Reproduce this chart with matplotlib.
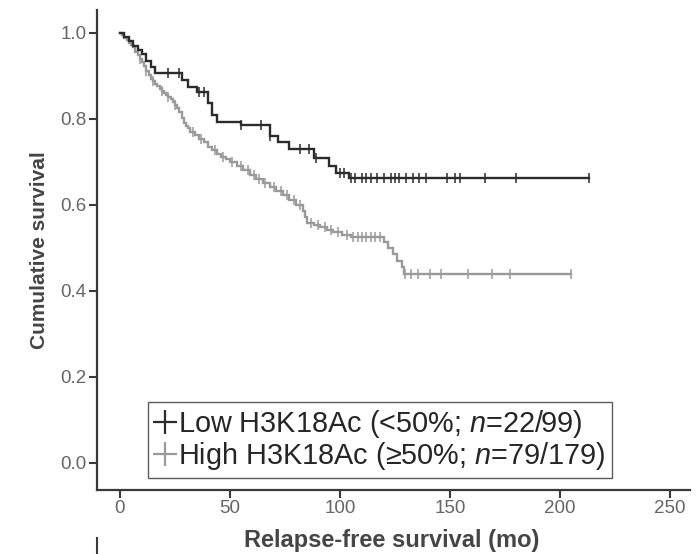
import numpy as np
import matplotlib
matplotlib.use("Agg")
import matplotlib.pyplot as plt
from matplotlib.lines import Line2D

plt.rcParams['font.family'] = ['Liberation Sans', 'DejaVu Sans']
plt.rcParams['mathtext.fontset'] = 'custom'
plt.rcParams['mathtext.rm'] = 'Liberation Sans'
plt.rcParams['mathtext.it'] = 'Liberation Sans:italic'

# ---- data ----
low_times = [0, 2, 4, 6, 8, 10, 12, 14, 16, 28, 31, 35, 40, 42, 44, 55, 68, 72, 77, 88, 95, 98, 104]
low_surv = [1.0, 0.99, 0.98, 0.97, 0.96, 0.95, 0.935, 0.92, 0.907, 0.89, 0.875, 0.863, 0.837,
            0.81, 0.793, 0.785, 0.76, 0.745, 0.73, 0.71, 0.69, 0.675, 0.663]
low_end = 213
low_censor = [22, 27, 36, 38, 55, 64, 68, 82, 86, 89, 100, 102, 105, 107, 110, 112, 114, 117,
              120, 123, 125, 127, 130, 133, 136, 139, 148.6, 152, 154.5, 166, 180, 213]

high_times = [0, 1, 2, 3, 4, 5, 6, 7, 8, 9, 10, 11, 12, 13, 14, 15, 16, 17, 18, 19, 20, 21, 22,
              23, 24, 25, 26, 27, 28, 29, 30, 31, 32, 34, 36, 38, 40, 42, 44, 46, 48, 50, 53, 56,
              59, 62, 65, 68, 71, 74, 77, 80, 83, 84, 85, 88, 91, 94, 97, 101, 105, 120, 122,
              124, 126, 128, 129]
high_surv = [1.0, 0.994, 0.989, 0.983, 0.977, 0.972, 0.966, 0.956, 0.948, 0.94, 0.932, 0.922,
             0.912, 0.902, 0.893, 0.887, 0.881, 0.876, 0.870, 0.865, 0.860, 0.855, 0.850, 0.845,
             0.838, 0.832, 0.825, 0.815, 0.803, 0.790, 0.784, 0.778, 0.770, 0.763, 0.752, 0.745,
             0.735, 0.727, 0.719, 0.712, 0.706, 0.700, 0.690, 0.680, 0.670, 0.660, 0.651, 0.642,
             0.632, 0.622, 0.612, 0.600, 0.585, 0.572, 0.558, 0.553, 0.548, 0.542, 0.536, 0.531,
             0.526, 0.514, 0.500, 0.485, 0.470, 0.455, 0.440]
high_end = 205
high_censor = [9, 12, 15, 19, 22, 25, 33, 37, 43, 47, 51, 55, 58, 61, 63, 66, 70, 73, 76, 79, 82,
               87, 90, 93, 96, 99, 103, 106, 108, 110, 112, 114, 116, 118, 129.5, 132, 135.5,
               141, 146, 158, 169, 177, 205]

x_ticks = [0, 50, 100, 150, 200, 250]
y_ticks = [0.0, 0.2, 0.4, 0.6, 0.8, 1.0]
y_ticklabels = ["0.0", "0.2", "0.4", "0.6", "0.8", "1.0"]

low_label = r"Low H3K18Ac (<50%; $n$=22/99)"
high_label = r"High H3K18Ac (≥50%; $n$=79/179)"

low_color = "#2b2b2b"
high_color = "#9a9a9a"

# ---- figure ----
fig = plt.figure(figsize=(7.0, 5.54), dpi=100)
ax = fig.add_axes([97/700, (554-490)/554, (690-97)/700, (490-10)/554])


def km(ax, times, surv, end, censor, color):
    xs = list(times) + [end]
    ys = list(surv) + [surv[-1]]
    ax.step(xs, ys, where='post', color=color, lw=1.7, solid_joinstyle='miter')
    t = np.asarray(times)
    s = np.asarray(surv)
    idx = np.searchsorted(t, np.asarray(censor), side='right') - 1
    ax.plot(censor, s[idx], ls='none', marker='|', ms=7, mew=1.1, color=color)


km(ax, high_times, high_surv, high_end, high_censor, high_color)
km(ax, low_times, low_surv, low_end, low_censor, low_color)

ax.set_xlim(-10.45, 259)
ax.set_ylim(-0.063, 1.053)
ax.set_xticks(x_ticks)
ax.set_xticklabels([str(v) for v in x_ticks])
ax.set_yticks(y_ticks)
ax.set_yticklabels(y_ticklabels)

for sp in ['top', 'right']:
    ax.spines[sp].set_visible(False)
for sp in ['left', 'bottom']:
    ax.spines[sp].set_color('#3a3a3a')
    ax.spines[sp].set_linewidth(1.6)
ax.tick_params(direction='out', length=6, width=1.5, color='#3a3a3a',
               labelcolor='#666666', labelsize=13.5, pad=1.5)

fig.text(40/700, 1 - 250/554, "Cumulative survival", ha='center', va='center',
         rotation=90, fontsize=15, fontweight='bold', color='#454545')
fig.text(392/700, 1 - 541/554, "Relapse-free survival (mo)", ha='center', va='center',
         fontsize=17, fontweight='bold', color='#454545')

handles = [Line2D([], [], ls='none', marker='+', ms=17, mew=1.6, color=low_color),
           Line2D([], [], ls='none', marker='+', ms=17, mew=1.6, color=high_color)]
leg = ax.legend(handles, [low_label, high_label], loc='lower left',
                bbox_to_anchor=((148-97)/593, (490-478)/480), borderaxespad=0,
                fontsize=20.8, frameon=True, fancybox=False, handlelength=0.8,
                handletextpad=0.05, borderpad=0.2, labelspacing=0.0)
leg.get_frame().set_edgecolor('#333333')
leg.get_frame().set_linewidth(1.0)
for t in leg.get_texts():
    t.set_color('#262626')

# partial spine of the panel below
fig.add_artist(Line2D([97/700, 97/700], [0, 1 - 538/554], transform=fig.transFigure,
                      color='#3a3a3a', lw=1.5))

fig.savefig("out.png", dpi=100)
